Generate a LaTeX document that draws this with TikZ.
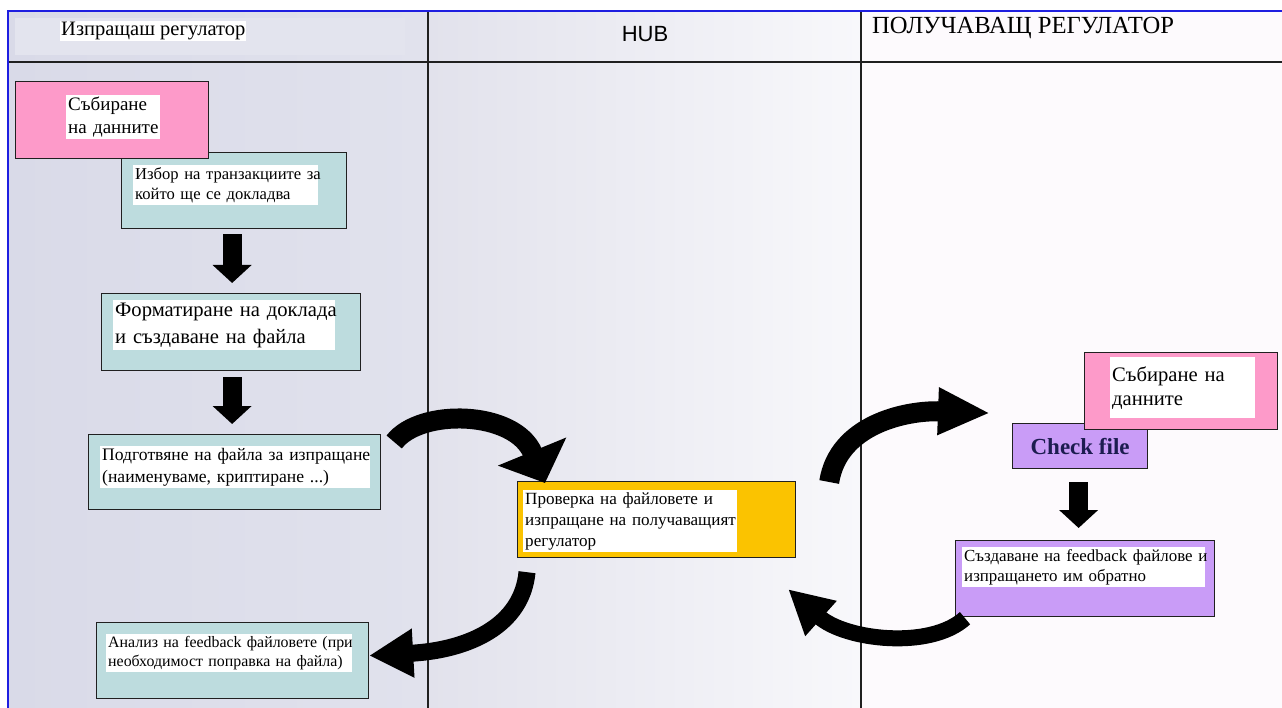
\documentclass[tikz,border=0pt]{standalone}
\usepackage{fontspec}
\setmainfont{Liberation Serif}
\newfontfamily\hubfont{Liberation Sans}
\usetikzlibrary{arrows.meta,calc}
\definecolor{colL1}{HTML}{D9DAE8}
\definecolor{colL2}{HTML}{E1E2ED}
\definecolor{colM1}{HTML}{E2E2EC}
\definecolor{colM2}{HTML}{F8F8FB}
\definecolor{colR}{HTML}{FDFAFD}
\definecolor{colHd}{HTML}{E3E4EE}
\definecolor{pinkf}{HTML}{FD9AC9}
\definecolor{tealf}{HTML}{BDDCDE}
\definecolor{orangef}{HTML}{FBC300}
\definecolor{purplef}{HTML}{C99CF7}
\definecolor{framec}{HTML}{1E1EE0}
\definecolor{lanec}{HTML}{202020}
\definecolor{navy}{HTML}{1C1C50}
\tikzset{
  lane/.style={draw=lanec, line width=1.8pt},
  frame/.style={draw=framec, line width=2pt},
  box/.style={draw=lanec, line width=1.2pt, anchor=north west, inner sep=0pt},
  lbl/.style={fill=white, anchor=north west, inner sep=2pt, align=left, text=black},
  fs/.style 2 args={font={\fontsize{#1pt}{#2pt}\selectfont}},
  blockarrow/.style={line width=19pt, -{Triangle[width=38pt,length=18pt]}},
  curvearrow/.style={black}
}
\begin{document}
\begin{tikzpicture}[x=1pt,y=-1pt]
\useasboundingbox (0,0) rectangle (1282,708);
\fill[white] (0,0) rectangle (1282,708);
% lanes
\shade[left color=colL1,right color=colL2] (8,11) rectangle (428,708);
\shade[left color=colM1,right color=colM2] (428,11) rectangle (861,708);
\fill[colR] (861,11) rectangle (1282,708);
\fill[colHd] (15,18) rectangle (405,55);
\draw[lane] (8,62) -- (1282,62);
\draw[lane] (428,11) -- (428,708);
\draw[lane] (861,11) -- (861,708);
\draw[frame] (8,708) -- (8,11) -- (1282,11);
% headers
\node[fill=white, inner sep=1pt, anchor=west, fs={20.5}{23}] (h1) at (60,31) {Изпращаш регулатор};
\node[inner sep=0pt, font={\hubfont\fontsize{22pt}{24pt}\selectfont}] (h2) at (645,34) {HUB};
\node[inner sep=0pt, anchor=west, fs={24.6}{26}] (h3) at (872,28) {ПОЛУЧАВАЩ РЕГУЛАТОР};
% left lane boxes
\node[box, fill=tealf, minimum width=225pt, minimum height=76pt] (b2) at (121,152) {};
\node[box, fill=pinkf, minimum width=193pt, minimum height=77pt] (b1) at (15,81) {};
\node[lbl, text width=90pt, minimum height=37pt, fs={19}{23}] (b1t) at (66,95)
  {\mbox{Събиране}\\\mbox{на данните}};
\node[lbl, text width=181pt, minimum height=35pt, fs={16.6}{20}] (b2t) at (133,165)
  {\mbox{Избор на транзакциите за}\\\mbox{който ще се докладва}};
\node[box, fill=tealf, minimum width=259pt, minimum height=77pt] (b4) at (101,293) {};
\node[lbl, text width=218pt, minimum height=50pt, fs={20.6}{27}] (b4t) at (113,300)
  {\mbox{Форматиране на доклада}\\\mbox{и създаване на файла}};
\node[box, fill=tealf, minimum width=292pt, minimum height=75pt] (b6) at (88,434) {};
\node[lbl, text width=266pt, minimum height=39pt, fs={17.6}{22}] (b6t) at (100,446)
  {\mbox{Подготвяне на файла за изпращане}\\\mbox{(наименуваме, криптиране ...)}};
\node[box, fill=tealf, minimum width=272pt, minimum height=76pt] (b7) at (96,622) {};
\node[lbl, text width=242pt, minimum height=38pt, fs={15.9}{19}] (b7t) at (106,634)
  {\mbox{Анализ на feedback файловете (при}\\\mbox{необходимост поправка на файла)}};
% hub box
\node[box, fill=orangef, minimum width=278pt, minimum height=76pt] (ob) at (517,481) {};
\node[lbl, text width=210pt, minimum height=59pt, fs={17.1}{21}] (ot) at (523,490)
  {\mbox{Проверка на файловете и}\\\mbox{изпращане на получаващият}\\\mbox{регулатор}};
% right lane boxes
\node[box, fill=purplef, minimum width=135pt, minimum height=45pt, text=navy,
      font={\bfseries\fontsize{23pt}{25pt}\selectfont}] (ck) at (1012,423) {Check file};
\node[box, fill=pinkf, minimum width=193pt, minimum height=77pt] (p2) at (1084,352) {};
\node[lbl, text width=141pt, minimum height=61pt, fs={20.6}{24}] (p2t) at (1110,357)
  {\mbox{Събиране на}\\\mbox{данните}};
\node[box, fill=purplef, minimum width=259pt, minimum height=76pt] (fb) at (955,540) {};
\node[lbl, text width=239pt, minimum height=39pt, fs={16.9}{20}] (fbt) at (962,547)
  {\mbox{Създаване на feedback файлове и}\\\mbox{изпращането им обратно}};
% straight block arrows
\draw[blockarrow] ($(b2.south)+(-2,5)$) -- ($(b4.north)+(1,-10)$);
\draw[blockarrow] ($(b4.south)+(1,6)$) -- ($(b6.north)+(-2.5,-10)$);
\draw[blockarrow] ($(ck.south)+(-1.5,13)$) -- ($(fb.north)+(-6.5,-12)$);
% curved arrows
\draw[curvearrow, line width=20pt, -{Triangle[width=72pt,length=34pt]}]
  ($(b6.north east)+(13,8)$) .. controls (420,408) and (515,410) .. ($(ob.north west)+(28,2)$);
\draw[curvearrow, line width=17pt, -{Triangle[width=46pt,length=44pt]}]
  ($(ob.south west)+(10,14)$) .. controls (522,625) and (470,650) .. ($(b7.east)+(0,-5)$);
\draw[curvearrow, line width=20pt, -{Triangle[width=44pt,length=52pt]}]
  ($(ob.north east)+(33,1)$) .. controls (838,425) and (905,410) .. ($(ck.west)+(-22,-33)$);
\draw[curvearrow, line width=16pt, -{Triangle[width=44pt,length=44pt]}]
  ($(fb.south west)+(10,1)$) .. controls (930,650) and (845,640) .. ($(ob.south east)+(-8,31)$);
\end{tikzpicture}
\end{document}
